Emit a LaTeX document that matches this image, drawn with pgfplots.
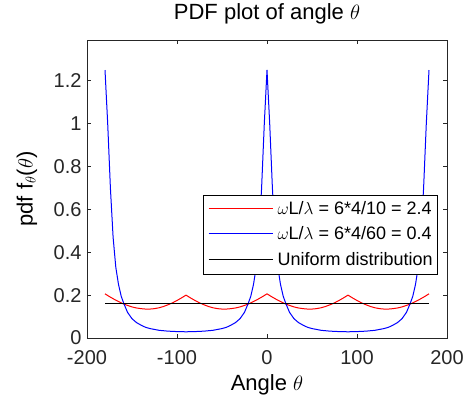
\documentclass[border=0pt]{standalone}
\usepackage{fontspec}
\setmainfont{Liberation Sans}
\usepackage{pgfplots}
\pgfplotsset{compat=1.18}
\definecolor{axgray}{rgb}{0.15,0.15,0.15}

\begin{document}
\begin{tikzpicture}
\useasboundingbox (-87pt,-62pt) rectangle (383pt,338pt);
\begin{axis}[
    at={(0pt,0pt)}, anchor=south west,
    scale only axis, width=360pt, height=298pt,
    xmin=-200, xmax=200, ymin=0, ymax=1.39,
    xtick={-200,-100,0,100,200},
    ytick={0,0.2,0.4,0.6,0.8,1,1.2},
    tick align=inside, major tick length=4pt,
    axis line style={axgray, line width=0.7pt},
    tick style={axgray, line width=0.6pt},
    /pgf/number format/assume math mode=true,
    ticklabel style={font=\fontsize{20}{24}\selectfont, text=axgray},
    xticklabel style={yshift=-9pt},
    yticklabel style={xshift=-2pt},
    title={PDF plot of angle $\theta$},
    title style={font=\fontsize{22}{26}\selectfont, at={(axis description cs:0.5,1.067)}, anchor=center},
    xlabel={Angle $\theta$},
    xlabel style={font=\fontsize{22}{26}\selectfont, at={(axis description cs:0.5,-0.158)}, anchor=center},
    ylabel={pdf f$_\theta$($\theta$)},
    ylabel style={font=\fontsize{22}{26}\selectfont, at={(axis description cs:-0.167,0.5)}, anchor=center},
    clip=false,
]
% omega L / lambda = 2.4
\addplot[red, line width=1pt] coordinates {
(-180,0.206) (-175,0.193) (-170,0.181) (-165,0.170) (-160,0.160) (-155,0.152)
(-150,0.145) (-145,0.140) (-140,0.137) (-135,0.135) (-130,0.135) (-125,0.137)
(-120,0.141) (-115,0.147) (-110,0.155) (-105,0.164) (-100,0.175) (-95,0.187)
(-90,0.200) (-85,0.187) (-80,0.175) (-75,0.164) (-70,0.155) (-65,0.147)
(-60,0.141) (-55,0.137) (-50,0.135) (-45,0.135) (-40,0.137) (-35,0.140)
(-30,0.145) (-25,0.152) (-20,0.160) (-15,0.170) (-10,0.181) (-5,0.193)
(0,0.206) (5,0.193) (10,0.181) (15,0.170) (20,0.160) (25,0.152)
(30,0.145) (35,0.140) (40,0.137) (45,0.135) (50,0.135) (55,0.137)
(60,0.141) (65,0.147) (70,0.155) (75,0.164) (80,0.175) (85,0.187)
(90,0.200) (95,0.187) (100,0.175) (105,0.164) (110,0.155) (115,0.147)
(120,0.141) (125,0.137) (130,0.135) (135,0.135) (140,0.137) (145,0.140)
(150,0.145) (155,0.152) (160,0.160) (165,0.170) (170,0.181) (175,0.193)
(180,0.206)
};
% omega L / lambda = 0.4
\addplot[blue, line width=1pt] coordinates {
(-180,1.25) (-177,1.0) (-174,0.70) (-171,0.47) (-168,0.33) (-165,0.25)
(-162,0.195) (-159,0.16) (-155,0.12) (-150,0.09) (-145,0.072) (-140,0.06)
(-135,0.05) (-130,0.044) (-125,0.04) (-120,0.036) (-110,0.032) (-100,0.030)
(-90,0.029) (-80,0.030) (-70,0.032) (-60,0.036) (-55,0.04) (-50,0.044)
(-45,0.05) (-40,0.06) (-35,0.072) (-30,0.09) (-25,0.12) (-21,0.16)
(-18,0.195) (-15,0.25) (-12,0.33) (-9,0.47) (-6,0.70) (-3,1.0)
(0,1.25) (3,1.0) (6,0.70) (9,0.47) (12,0.33) (15,0.25)
(18,0.195) (21,0.16) (25,0.12) (30,0.09) (35,0.072) (40,0.06)
(45,0.05) (50,0.044) (55,0.04) (60,0.036) (70,0.032) (80,0.030)
(90,0.029) (100,0.030) (110,0.032) (120,0.036) (125,0.04) (130,0.044)
(135,0.05) (140,0.06) (145,0.072) (150,0.09) (155,0.12) (159,0.16)
(162,0.195) (165,0.25) (168,0.33) (171,0.47) (174,0.70) (177,1.0)
(180,1.25)
};
% uniform 1/(2 pi)
\addplot[black, line width=1pt] coordinates {(-180,0.159) (180,0.159)};
% legend as a table with coloured rules
\node[draw=black, line width=0.8pt, fill=white, anchor=north east,
      inner xsep=5pt, inner ysep=1pt,
      font=\fontsize{18}{21}\selectfont]
  at (rel axis cs:0.975,0.48) {%
  \renewcommand{\arraystretch}{1.22}%
  \begin{tabular}{@{}l@{\hspace{5pt}}l@{}}
  \textcolor{red}{\rule[5.5pt]{64pt}{1.1pt}} & $\omega$L/$\lambda$ = 6*4/10 = 2.4\\
  \textcolor{blue}{\rule[5.5pt]{64pt}{1.1pt}} & $\omega$L/$\lambda$ = 6*4/60 = 0.4\\
  \textcolor{black}{\rule[5.5pt]{64pt}{1.1pt}} & Uniform distribution
  \end{tabular}};
\end{axis}
\end{tikzpicture}
\end{document}
